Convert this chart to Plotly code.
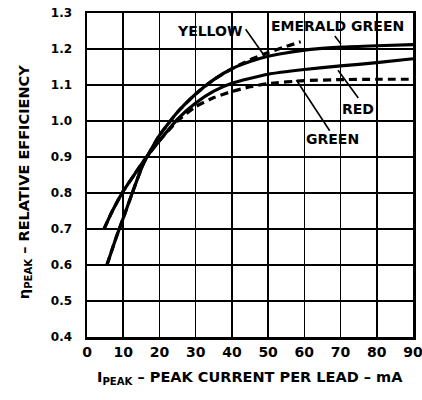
import plotly.graph_objects as go

# ---- data ----
x_ticks = [0, 10, 20, 30, 40, 50, 60, 70, 80, 90]
y_ticks = [0.4, 0.5, 0.6, 0.7, 0.8, 0.9, 1.0, 1.1, 1.2, 1.3]

emerald_x = [5.5, 8, 10, 12.5, 15.5, 20, 25, 30, 35, 40, 45, 50, 60, 70, 80, 90]
emerald_y = [0.60, 0.675, 0.73, 0.80, 0.88, 0.96, 1.025, 1.075, 1.115, 1.145, 1.165, 1.18, 1.197, 1.205, 1.209, 1.212]

yellow_x = [5.5, 8, 10, 12.5, 15.5, 20, 25, 30, 35, 40, 45, 50, 55, 59]
yellow_y = [0.60, 0.675, 0.73, 0.80, 0.88, 0.96, 1.025, 1.075, 1.115, 1.145, 1.17, 1.19, 1.207, 1.22]

red_x = [4.7, 7, 10, 13, 15.7, 20, 25, 30, 35, 40, 50, 60, 70, 80, 90]
red_y = [0.70, 0.75, 0.805, 0.85, 0.89, 0.945, 1.005, 1.05, 1.083, 1.105, 1.13, 1.143, 1.153, 1.162, 1.173]

green_x = [4.7, 7, 10, 13, 15.7, 20, 25, 30, 35, 40, 45, 50, 60, 70, 80, 90]
green_y = [0.70, 0.75, 0.805, 0.85, 0.89, 0.945, 1.0, 1.04, 1.065, 1.082, 1.095, 1.104, 1.112, 1.115, 1.116, 1.116]

labels = ["YELLOW", "EMERALD GREEN", "RED", "GREEN"]
label_x = [33.9, 69.1, 74.8, 67.9]
label_y = [1.249, 1.265, 1.034, 0.949]
leader_x0 = [43.8, 68.4, 69.3, 57.8]
leader_y0 = [1.255, 1.236, 1.141, 1.114]
leader_x1 = [49.1, 70.1, 74.9, 67.0]
leader_y1 = [1.179, 1.214, 1.064, 0.973]

FONT = "DejaVu Sans"

fig = go.Figure()
line_common = dict(color="black", width=3.2, shape="spline", smoothing=0.5)
fig.add_trace(go.Scatter(x=green_x, y=green_y, mode="lines",
                         line=dict(**line_common, dash="8px,5px")))
fig.add_trace(go.Scatter(x=red_x, y=red_y, mode="lines", line=dict(**line_common)))
fig.add_trace(go.Scatter(x=yellow_x, y=yellow_y, mode="lines",
                         line=dict(**line_common, dash="8px,5px")))
fig.add_trace(go.Scatter(x=emerald_x, y=emerald_y, mode="lines", line=dict(**line_common)))

for t, lx, ly in zip(labels, label_x, label_y):
    fig.add_annotation(x=lx, y=ly, xref="x", yref="y", text="<b>%s</b>" % t,
                       showarrow=False, font=dict(family=FONT, size=14, color="black"),
                       xanchor="center", yanchor="middle")
for x0, y0, x1, y1 in zip(leader_x0, leader_y0, leader_x1, leader_y1):
    fig.add_shape(type="line", x0=x0, y0=y0, x1=x1, y1=y1, xref="x", yref="y",
                  line=dict(color="black", width=1.6))

fig.add_annotation(x=0.5, y=-0.127, xref="paper", yref="paper",
                   text="<b>I<sub>PEAK</sub> – PEAK CURRENT PER LEAD – mA</b>",
                   showarrow=False, font=dict(family=FONT, size=14.5, color="black"),
                   xanchor="center", yanchor="middle")
fig.add_annotation(x=-0.19, y=0.478, xref="paper", yref="paper", textangle=-90,
                   text="<b>η<sub>PEAK</sub> – RELATIVE EFFICIENCY</b>",
                   showarrow=False, font=dict(family=FONT, size=14.5, color="black"),
                   xanchor="center", yanchor="middle")

fig.update_xaxes(range=[0, 90], tickvals=x_ticks, ticktext=["<b>%d</b>" % v for v in x_ticks],
                 showgrid=True, gridcolor="black", gridwidth=1.6, zeroline=False,
                 showline=True, linecolor="black", linewidth=2.5, mirror=True,
                 ticks="", ticklabelstandoff=1, automargin=False, ticklabeloverflow="allow",
                 tickfont=dict(family=FONT, size=14, color="black"))
fig.update_yaxes(range=[0.4, 1.3], tickvals=y_ticks, ticktext=["<b>%.1f</b>" % v for v in y_ticks],
                 showgrid=True, gridcolor="black", gridwidth=1.6, zeroline=False,
                 showline=True, linecolor="black", linewidth=2.5, mirror=True,
                 ticks="", ticklabelstandoff=10, automargin=False, ticklabeloverflow="allow",
                 tickfont=dict(family=FONT, size=12, color="black"))

fig.update_layout(width=422, height=400, showlegend=False,
                  paper_bgcolor="white", plot_bgcolor="white",
                  margin=dict(l=87, r=9, t=13, b=63, autoexpand=False))

fig.write_html("out.html",
               config={"displayModeBar": False, "staticPlot": True},
               post_script="document.body.style.margin='0';"
                           "document.documentElement.style.overflow='hidden';"
                           "document.body.style.overflow='hidden';")
